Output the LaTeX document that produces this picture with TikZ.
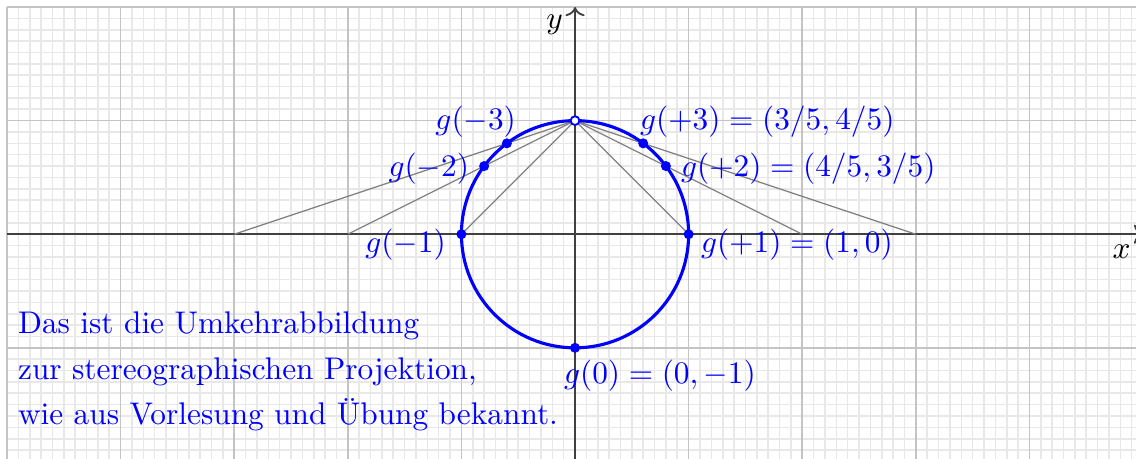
\documentclass[tikz,border=0pt]{standalone}
\usepackage{fontspec}
\usepackage{xcolor}
\definecolor{PureBlue}{HTML}{0000FF}
\definecolor{GridMinor}{HTML}{E8E8E8}
\definecolor{GridMajor}{HTML}{C4C4C4}
\definecolor{Ray}{HTML}{808080}
\definecolor{Axis}{HTML}{404040}
\colorlet{curve}{PureBlue}
\colorlet{gridminor}{GridMinor}
\colorlet{gridmajor}{GridMajor}
\colorlet{ray}{Ray}
\colorlet{axis}{Axis}
\usepackage{amsmath}
\usepackage{tikz}
\usetikzlibrary{arrows.meta,positioning,calc}

\begin{document}
\begin{tikzpicture}[x=1.275cm,y=1.275cm,every node/.style={text=curve}]
\useasboundingbox (-5.062,-1.972) rectangle (4.938,2.062);
\draw[step=0.1,gridminor,line width=0.5pt] (-5,-2) grid (5,2);
\draw[step=1,gridmajor,line width=0.5pt] (-5,-2) grid (5,2);
\coordinate (xl) at (-5,0);\coordinate (xr) at (5,0);\coordinate (yb) at (0,-2);\coordinate (yt) at (0,2);
\draw[->,axis,line width=0.6pt] (xl)--(xr);\draw[->,axis,line width=0.6pt] (yb)--(yt);
\node[text=black] (xlab) at (4.81,-0.15) {$x$};
\node[text=black] (ylab) at (-0.18,1.84) {$y$};
\coordinate (N) at (0,1);
\foreach \t in {-3,-2,-1,1,2,3} {\coordinate (p\t) at (\t,0);\draw[ray,line width=0.4pt] (N)--(p\t);}
\draw[curve,line width=1pt] (0,0) circle (1);
\foreach \t in {-3,-2,-1,0,1,2,3} {\coordinate (g\t) at ({2*\t/(\t*\t+1)},{(\t*\t-1)/(\t*\t+1)});\fill[curve] (g\t) circle (1.6pt);}
\draw[curve,fill=white,line width=0.6pt] (N) circle (1.4pt);
\node[anchor=base east] (lm3) at (-0.423,0.924) {$g(-3)$};
\node[anchor=base east] (lm2) at (-0.836,0.511) {$g(-2)$};
\node[anchor=base east] (lm1) at (-1.04,-0.158) {$g(-1)$};
\node[anchor=base west] (lp3) at (0.475,0.924) {$g(+3)=(3/5,4/5)$};
\node[anchor=base west] (lp2) at (0.836,0.511) {$g(+2)=(4/5,3/5)$};
\node[anchor=base west] (lp1) at (1.012,-0.158) {$g(+1)=(1,0)$};
\node[anchor=base west] (l0) at (-0.194,-1.312) {$g(0)=(0,-1)$};
\node[anchor=base west] (t1) at (-5,-0.875) {Das ist die Umkehrabbildung};
\node[anchor=base west] (t2) at (-5,-1.275) {zur stereographischen Projektion,};
\node[anchor=base west] (t3) at (-5,-1.675) {wie aus Vorlesung und Übung bekannt.};
\end{tikzpicture}
\end{document}
